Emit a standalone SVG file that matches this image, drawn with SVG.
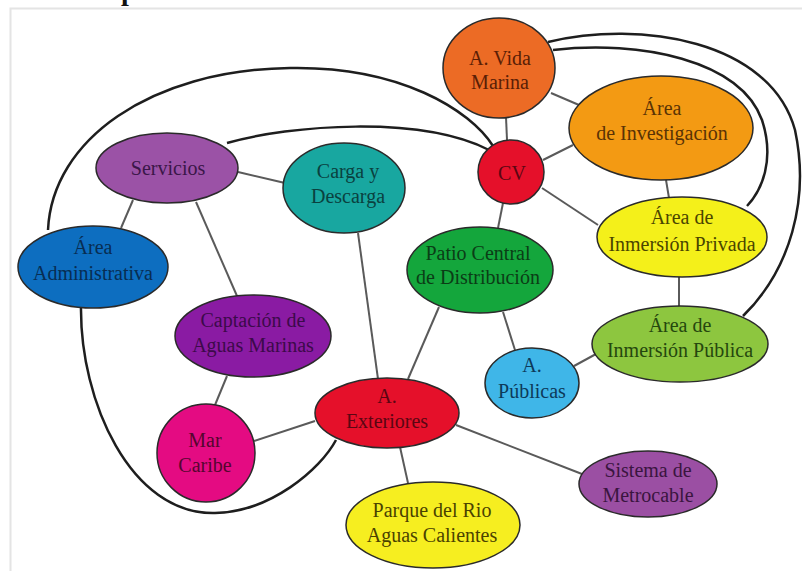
<svg xmlns="http://www.w3.org/2000/svg" width="802" height="571" viewBox="0 0 802 571">
<style>
.n{stroke:#2a2a2a;stroke-width:1.5}
.t{font-family:"Liberation Serif","Times New Roman",serif;font-size:20px;text-anchor:middle}
.c line{stroke:#5a5a5a;stroke-width:2}
.c path{stroke:#1e1e1e;stroke-width:2.5;fill:none}
</style>
<rect width="802" height="571" fill="#ffffff"/>
<text x="121" y="0" style="font-family:'Liberation Serif',serif;font-size:28px;font-weight:bold" fill="#111">p</text>
<path d="M10.5,571 V8.5 H802" fill="none" stroke="#e4e4e4" stroke-width="2"/>
<g id="connectors" class="c">
<path d="M48,230 C52,140 150,70 290,68 C400,66 470,110 493,146"/>
<path d="M227,143 C290,125 420,115 489,150"/>
<path d="M81,307 C80,400 130,515 215,513 C270,512 320,470 336,440"/>
<path d="M548,42 C640,20 770,40 795,130 C810,200 790,270 743,316"/>
<path d="M553,50 C640,40 740,60 762,120 C775,160 762,190 747,206"/>
<line x1="238" y1="172" x2="285" y2="183"/>
<line x1="133" y1="200" x2="121" y2="228"/>
<line x1="196" y1="202" x2="237" y2="296"/>
<line x1="227" y1="376" x2="215" y2="405"/>
<line x1="254" y1="441" x2="315" y2="421"/>
<line x1="358" y1="233" x2="378" y2="379"/>
<line x1="439" y1="307" x2="408" y2="379"/>
<line x1="503" y1="312" x2="515" y2="350"/>
<line x1="498" y1="228" x2="503" y2="203"/>
<line x1="400" y1="447" x2="408" y2="483"/>
<line x1="456" y1="425" x2="582" y2="474"/>
<line x1="574" y1="366" x2="596" y2="354"/>
<line x1="507" y1="140" x2="506" y2="117"/>
<line x1="543" y1="160" x2="573" y2="145"/>
<line x1="542" y1="188" x2="598" y2="225"/>
<line x1="551" y1="93" x2="579" y2="105"/>
<line x1="666" y1="180" x2="669" y2="198"/>
<line x1="679" y1="277" x2="679" y2="307"/>
</g>
<g id="vida-marina"><ellipse class="n" cx="499" cy="68" rx="56" ry="50" fill="#EC6B25"/><text class="t" fill="#5a1e05"><tspan x="500" y="65">A. Vida</tspan><tspan x="500" y="89">Marina</tspan></text></g>
<g id="investigacion"><ellipse class="n" cx="661" cy="128" rx="92" ry="52" fill="#F39A13"/><text class="t" fill="#5a3305"><tspan x="662" y="115">Área</tspan><tspan x="662" y="140">de Investigación</tspan></text></g>
<g id="cv"><ellipse class="n" cx="511" cy="172" rx="33" ry="32" fill="#E5102A"/><text class="t" fill="#5a0612"><tspan x="512" y="180">CV</tspan></text></g>
<g id="inmersion-privada"><ellipse class="n" cx="682" cy="237" rx="85" ry="40" fill="#F4F01A"/><text class="t" fill="#4a4500"><tspan x="682" y="224">Área de</tspan><tspan x="682" y="251">Inmersión Privada</tspan></text></g>
<g id="patio-central"><ellipse class="n" cx="480" cy="270" rx="73" ry="43" fill="#14A63C"/><text class="t" fill="#0b3d16"><tspan x="478" y="260">Patio Central</tspan><tspan x="478" y="284">de Distribución</tspan></text></g>
<g id="inmersion-publica"><ellipse class="n" cx="680" cy="344" rx="88" ry="38" fill="#8DC63F"/><text class="t" fill="#25470e"><tspan x="680" y="332">Área de</tspan><tspan x="680" y="357">Inmersión Pública</tspan></text></g>
<g id="a-publicas"><ellipse class="n" cx="532" cy="383" rx="47" ry="35" fill="#3FB6E8"/><text class="t" fill="#0d3a5a"><tspan x="532" y="372">A.</tspan><tspan x="532" y="398">Públicas</tspan></text></g>
<g id="metrocable"><ellipse class="n" cx="648" cy="484" rx="69" ry="33" fill="#9B4FA3"/><text class="t" fill="#3a153f"><tspan x="648" y="477">Sistema de</tspan><tspan x="648" y="502">Metrocable</tspan></text></g>
<g id="parque-rio"><ellipse class="n" cx="433" cy="525" rx="87" ry="43" fill="#F6EE20"/><text class="t" fill="#4a4200"><tspan x="432" y="517">Parque del Rio</tspan><tspan x="432" y="542">Aguas Calientes</tspan></text></g>
<g id="a-exteriores"><ellipse class="n" cx="387" cy="413" rx="72" ry="35" fill="#E5102A"/><text class="t" fill="#5a0612"><tspan x="387" y="403">A.</tspan><tspan x="387" y="428">Exteriores</tspan></text></g>
<g id="mar-caribe"><ellipse class="n" cx="206" cy="453" rx="49" ry="49" fill="#E40B82"/><text class="t" fill="#55062f"><tspan x="205" y="447">Mar</tspan><tspan x="205" y="472">Caribe</tspan></text></g>
<g id="captacion"><ellipse class="n" cx="253" cy="336" rx="78" ry="41" fill="#8A1BA3"/><text class="t" fill="#3c0a4a"><tspan x="253" y="327">Captación de</tspan><tspan x="253" y="352">Aguas Marinas</tspan></text></g>
<g id="area-administrativa"><ellipse class="n" cx="93" cy="267" rx="75" ry="41" fill="#0D6EC0"/><text class="t" fill="#082d52"><tspan x="93" y="254">Área</tspan><tspan x="93" y="280">Administrativa</tspan></text></g>
<g id="servicios"><ellipse class="n" cx="167" cy="168" rx="71" ry="35" fill="#9B52A6"/><text class="t" fill="#3a1648"><tspan x="168" y="175">Servicios</tspan></text></g>
<g id="carga-descarga"><ellipse class="n" cx="344" cy="188" rx="61" ry="45" fill="#18A7A0"/><text class="t" fill="#0a413f"><tspan x="348" y="178">Carga y</tspan><tspan x="348" y="203">Descarga</tspan></text></g>
</svg>
